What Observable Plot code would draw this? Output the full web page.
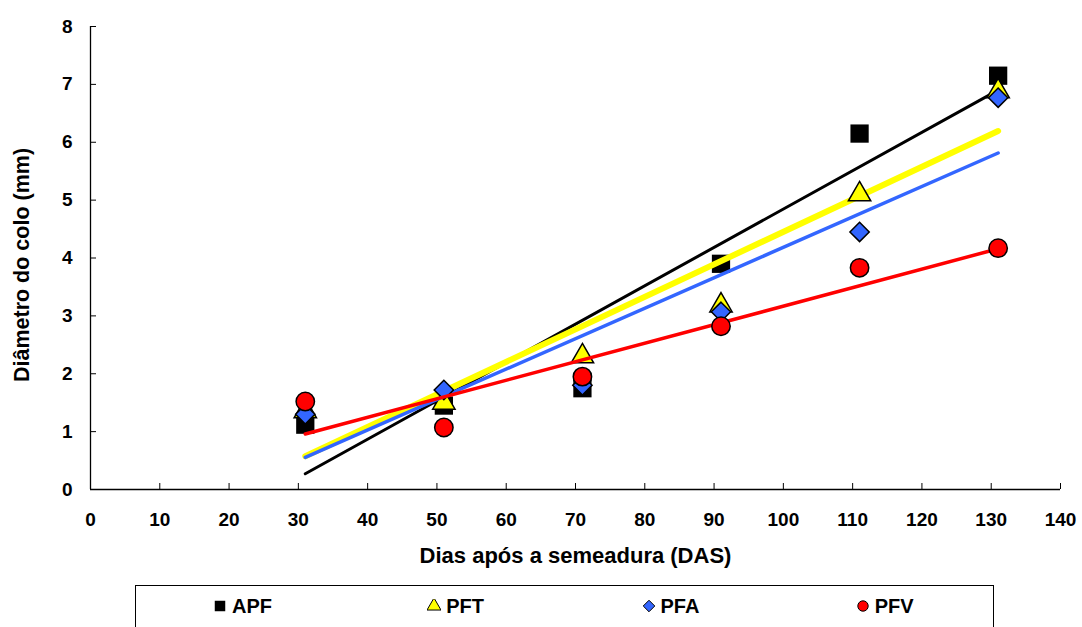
<!DOCTYPE html>
<html>
<head>
<meta charset="utf-8">
<script src="https://cdn.jsdelivr.net/npm/d3@7"></script>
<script src="https://cdn.jsdelivr.net/npm/@observablehq/plot@0.6"></script>
<style>
  body { margin: 0; background: #fff; font-family: "Liberation Sans", Arial, sans-serif; }
  #chart { position: relative; width: 1082px; height: 627px; overflow: hidden; }
  #legend { position: absolute; left: 135px; top: 585px; width: 859px; height: 60px;
            border: 1px solid #000; display: flex; box-sizing: border-box; }
  .item { width: 215px; display: flex; align-items: center; height: 40px; padding-left: 77px; box-sizing: border-box;
          font-weight: bold; font-size: 20px; }
  .item svg { margin-right: 5px; }
</style>
</head>
<body>
<div id="chart"></div>
<script>
// ---- data ----
const dias = [31, 51, 71, 91, 111, 131];
const seriesNames = ["APF", "PFT", "PFA", "PFV"];
const apf = [1.12, 1.45, 1.75, 3.9, 6.15, 7.15];
const pft = [1.35, 1.5, 2.3, 3.18, 5.1, 6.88];
const pfa = [1.3, 1.72, 1.8, 3.07, 4.45, 6.77];
const pfv = [1.52, 1.07, 1.95, 2.82, 3.83, 4.17];
const xTicks = [0, 10, 20, 30, 40, 50, 60, 70, 80, 90, 100, 110, 120, 130, 140];
const yTicks = [0, 1, 2, 3, 4, 5, 6, 7, 8];
const xTitle = "Dias após a semeadura (DAS)";
const yTitle = "Diâmetro do colo (mm)";

// ---- styles ----
const valuesBy = {APF: apf, PFT: pft, PFA: pfa, PFV: pfv};
const style = {
  APF: {fill: "#000000", line: "#000000", symbol: "square", r: 10.3, lw: 3, stroke: "none"},
  PFT: {fill: "#FFFF00", line: "#FFFF00", symbol: "triangle", r: 8.3, lw: 6, stroke: "#000"},
  PFA: {fill: "#3366FF", line: "#3366FF", symbol: "diamond2", r: 8.7, lw: 3.5, stroke: "#000"},
  PFV: {fill: "#FF0000", line: "#FF0000", symbol: "circle", r: 9.2, lw: 3.5, stroke: "#000"}
};

const rows = seriesNames.flatMap(s => dias.map((d, i) => ({serie: s, x: d, y: valuesBy[s][i]})));

const marks = [];
for (const s of seriesNames) {
  const data = rows.filter(r => r.serie === s);
  const st = style[s];
  marks.push(Plot.linearRegressionY(data, {x: "x", y: "y", stroke: st.line, strokeWidth: st.lw, ci: 0}));
  marks.push(Plot.dot(data, {x: "x", y: "y", symbol: () => st.symbol, r: st.r, fill: st.fill,
    stroke: st.stroke, strokeWidth: 1.5}));
}

const chart = Plot.plot({
  width: 1082,
  height: 580,
  marginLeft: 90,
  marginRight: 22,
  marginTop: 26,
  marginBottom: 91,
  style: {fontFamily: "'Liberation Sans', Arial, sans-serif", fontSize: "19px", fontWeight: "bold", color: "#000", background: "#fff"},
  x: {domain: [0, 140]},
  y: {domain: [0, 8]},
  symbol: {type: "identity"},
  marks: [
    // axis lines
    Plot.ruleX([0], {stroke: "#000", strokeWidth: 1.3}),
    Plot.ruleY([0], {stroke: "#000", strokeWidth: 1.3}),
    // inward ticks
    Plot.ruleX(xTicks.slice(1), {x: d => d, y1: 0, y2: 0, insetTop: -6, stroke: "#000"}),
    Plot.ruleY(yTicks.slice(1), {y: d => d, x1: 0, x2: 0, insetRight: -6, stroke: "#000"}),
    Plot.axisX(xTicks, {tickSize: 0, tickPadding: 23, label: null, fill: "#000", fontSize: 19, tickFormat: d3.format("d")}),
    Plot.axisY(yTicks, {tickSize: 0, tickPadding: 18, label: null, fill: "#000", fontSize: 19, tickFormat: d3.format("d")}),
    Plot.text([xTitle], {frameAnchor: "bottom", dy: 73, text: d => d, fontSize: 22, fontWeight: "bold", textAnchor: "middle"}),
    Plot.text([yTitle], {frameAnchor: "left", dx: -68, dy: 7, rotate: -90, text: d => d, fontSize: 21.5, fontWeight: "bold", textAnchor: "middle"}),
    ...marks
  ]
});

const root = document.getElementById("chart");
root.appendChild(chart);

// legend
const legend = document.createElement("div");
legend.id = "legend";
for (const s of seriesNames) {
  const st = style[s];
  const item = document.createElement("div");
  item.className = "item";
  const sym = {square: d3.symbolSquare, triangle: d3.symbolTriangle, diamond2: d3.symbolDiamond2, circle: d3.symbolCircle}[st.symbol];
  const sz = st.symbol === "square" ? 110 : 85;
  const path = d3.symbol(sym, sz)();
  item.innerHTML = `<svg width="14" height="14" viewBox="-7 -7 14 14"><path d="${path}" fill="${st.fill}" stroke="${st.stroke}" stroke-width="1"/></svg><span>${s}</span>`;
  legend.appendChild(item);
}
root.appendChild(legend);
</script>
</body>
</html>
